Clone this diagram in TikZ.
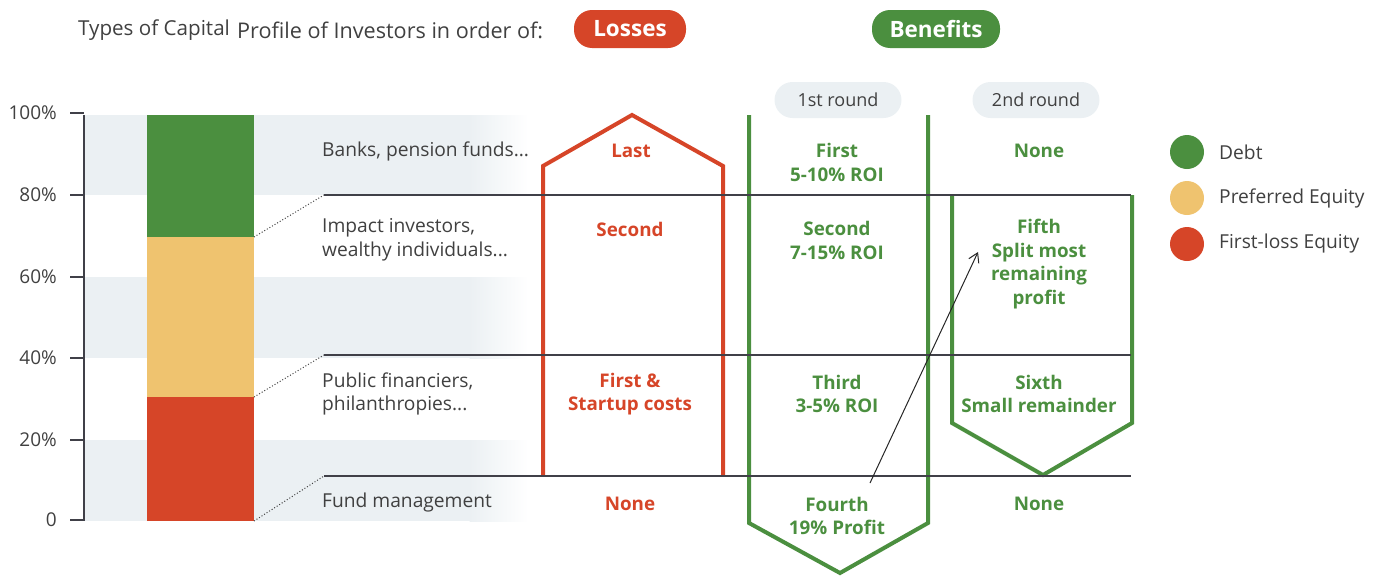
\documentclass[tikz,border=0pt]{standalone}
\usepackage{fontspec}
\setmainfont{Open Sans}
\usetikzlibrary{arrows.meta}
\definecolor{cgreen}{HTML}{4B8F3F}
\definecolor{cyellow}{HTML}{EFC36F}
\definecolor{cred}{HTML}{D64528}
\definecolor{cband}{HTML}{EBF0F3}
\definecolor{ctext}{HTML}{404040}
\definecolor{cline}{HTML}{404048}
\tikzset{
  hdr/.style={font=\fontsize{20.6}{24}\selectfont, text=ctext, inner sep=0pt, anchor=west},
  lbl/.style={font=\fontsize{19.2}{23.5}\selectfont, text=ctext, inner sep=0pt, align=left, anchor=west},
  axl/.style={font=\fontsize{19}{22}\selectfont, text=ctext, inner sep=0pt, anchor=east},
  redt/.style={font=\bfseries\fontsize{18.8}{23.5}\selectfont, text=cred, inner sep=0pt, align=center},
  grnt/.style={font=\bfseries\fontsize{18.8}{23.5}\selectfont, text=cgreen, inner sep=0pt, align=center},
  pill/.style={rounded corners=18pt, minimum height=38pt, inner sep=0pt, font=\bfseries\fontsize{22.5}{25}\selectfont, text=white},
  roundpill/.style={rounded corners=18pt, fill=cband, minimum height=36pt, minimum width=127pt, inner sep=0pt, font=\fontsize{18}{20}\selectfont, text=ctext},
  hline/.style={draw=cline, line width=1.4pt},
  dotl/.style={draw=ctext, line width=1pt, dotted},
  redshape/.style={draw=cred, line width=4pt},
  grnshape/.style={draw=cgreen, line width=4pt},
  legdot/.style={circle, minimum size=34pt, inner sep=0pt},
  leglbl/.style={font=\fontsize{19.2}{22}\selectfont, text=ctext, inner sep=0pt, anchor=west}
}
\begin{document}
\begin{tikzpicture}[x=1pt,y=-1pt]
\useasboundingbox (0,0) rectangle (1379,576);
% bands
\foreach \ya/\yb in {115/195, 277/358, 440/521}{
  \fill[cband] (84,\ya) rectangle (470,\yb);
  \shade[left color=cband, right color=white] (469.5,\ya) rectangle (528,\yb);
}
% header
\node[hdr] (h1) at (78,30) {Types of Capital};
\node[hdr, font=\fontsize{21.6}{24}\selectfont] (h2) at (237,30) {Profile of Investors in order of:};
\node[pill, fill=cred, minimum width=112pt] (losses) at (630,29) {Losses};
\node[pill, fill=cgreen, minimum width=128pt] (benefits) at (936,29) {Benefits};
\node[roundpill] (r1) at (838,100) {1st round};
\node[roundpill] (r2) at (1036,100) {2nd round};
% axis
\coordinate (ax0) at (84,521);
\coordinate (ax100) at (84,115);
\draw[cline, line width=1.4pt] (ax100) -- (ax0);
\foreach \p/\y in {100\%/113, 80\%/195, 60\%/277, 40\%/358, 20\%/440, 0/520}{
  \draw[cline, line width=1.4pt] (70,\y) -- (84,\y);
  \node[axl] at (57,\y) {\p};
}
% stacked bar
\fill[cgreen] (147,115) rectangle (254,237);
\fill[cyellow] (147,237) rectangle (254,397);
\fill[cred] (147,397) rectangle (254,521);
% horizontal rules
\coordinate (l1a) at (324,195); \coordinate (l1b) at (1131,195);
\coordinate (l2a) at (324,355); \coordinate (l2b) at (1131,355);
\coordinate (l3a) at (324,476); \coordinate (l3b) at (1131,476);
\coordinate (b1) at (254,237);
\coordinate (b2) at (254,397);
\coordinate (b3) at (254,521);
\draw[dotl] (b1) -- (l1a);
\draw[dotl] (b2) -- (l2a);
\draw[dotl] (b3) -- (l3a);
% red shape
\draw[redshape, line join=miter] (543,476) -- (543,166) -- (632,115) -- (723,166) -- (723,476);
% green shapes
\draw[grnshape, line join=miter] (749,115) -- (749,523) -- (840,573) -- (928,523) -- (928,115);
\draw[grnshape, line join=miter] (952,195) -- (952,423) -- (1043,475) -- (1132,423) -- (1132,195);
\draw[hline] (l1a) -- (l1b);
\draw[hline] (l2a) -- (l2b);
\draw[hline] (l3a) -- (l3b);
% investor labels
\node[lbl] (inv1) at (322,151) {Banks, pension funds...};
\node[lbl] (inv2) at (322,240) {Impact investors,\\wealthy individuals...};
\node[lbl] (inv3) at (322,394) {Public financiers,\\philanthropies...};
\node[lbl] (inv4) at (322,503) {Fund management};
% losses
\node[redt] (lo1) at (631,151) {Last};
\node[redt] (lo2) at (630,229) {Second};
\node[redt] (lo3) at (630,394) {First \&\\Startup costs};
\node[redt] (lo4) at (630,504) {None};
% benefits round 1
\node[grnt] (a1) at (837,162.5) {First\\5-10\% ROI};
\node[grnt] (a2) at (837,240.5) {Second\\7-15\% ROI};
\node[grnt] (a3) at (837,394) {Third\\3-5\% ROI};
\node[grnt] (a4) at (837,516) {Fourth\\19\% Profit};
% benefits round 2
\node[grnt] (c1) at (1039,151) {None};
\node[grnt] (c2) at (1039,264) {Fifth\\Split most\\remaining\\profit};
\node[grnt] (c3) at (1039,394) {Sixth\\Small remainder};
\node[grnt] (c4) at (1039,504) {None};
% arrow
\coordinate (arrS) at (870,483);
\coordinate (arrE) at (978,252);
\draw[black!85, line width=1pt, -{Straight Barb[length=9pt,width=11pt]}] (arrS) -- (arrE);
% legend
\node[legdot, fill=cgreen] (d1) at (1187,152) {};
\node[legdot, fill=cyellow] (d2) at (1187,198) {};
\node[legdot, fill=cred] (d3) at (1187,244) {};
\node[leglbl] (t1) at (1219,152) {Debt};
\node[leglbl] (t2) at (1219,198) {Preferred Equity};
\node[leglbl] (t3) at (1219,244) {First-loss Equity};
\end{tikzpicture}
\end{document}
